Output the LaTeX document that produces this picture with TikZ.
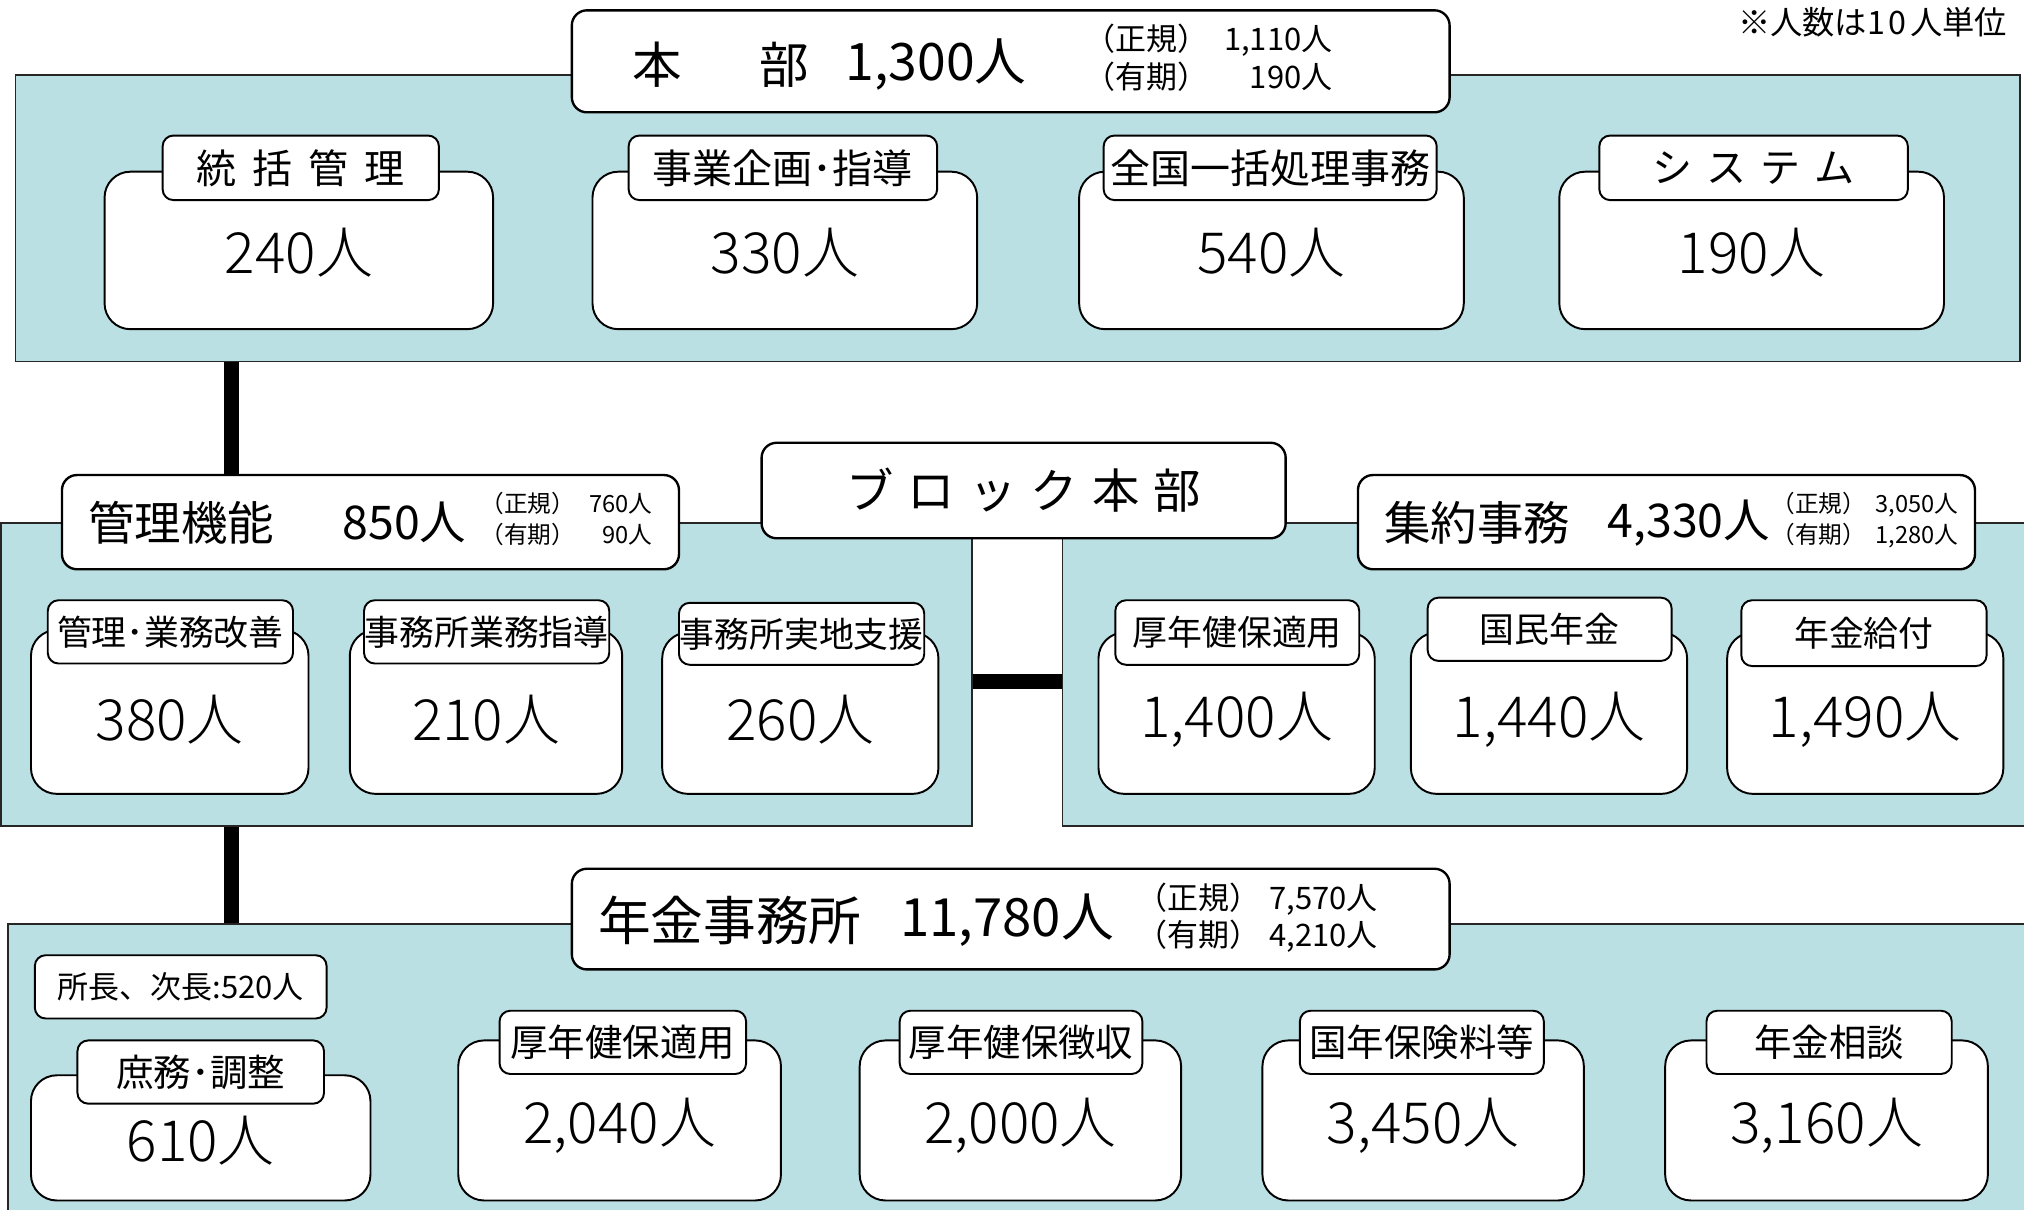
\documentclass[tikz,border=0pt]{standalone}
\usepackage{fontspec}
\setmainfont{Noto Sans CJK JP}
\newfontfamily\thinfont{Noto Sans CJK JP Light}
\definecolor{panelc}{RGB}{187,224,227}
\newcommand\fsz[1]{\fontsize{#1}{#1}\selectfont}
\newcommand\fsl[2]{\fontsize{#1}{#2}\selectfont}
\newcommand\lowr[2]{\raisebox{-#1}[\height][\depth]{#2}}
\newcommand\mkbox[7]{\node[#2, minimum width={(#5-#3)*0.6pt}, minimum height={(#6-#4)*0.6pt}] (#1) at ({(#3+#5)/2},{(#4+#6)/2}) {#7};}
\begin{document}
\begin{tikzpicture}[x=0.6pt,y=-0.6pt,
  panel/.style={draw=black!85, fill=panelc, line width=0.8pt, inner sep=0pt},
  hdrbox/.style={draw=black, fill=white, rounded corners=7pt, line width=1.1pt, inner sep=0pt},
  outerbox/.style={draw=black, fill=white, rounded corners=12pt, line width=0.9pt, inner sep=0pt, font=\thinfont\fsz{26.4}},
  labbox/.style={draw=black, fill=white, rounded corners=5pt, line width=0.9pt, inner sep=0pt},
  toplab/.style={labbox, font=\fsz{18.6}},
  midlab/.style={labbox, font=\fsz{16.2}},
  botlab/.style={labbox, font=\fsz{17.4}},
  txt/.style={inner sep=0pt, anchor=west},
  conn/.style={line width=7pt}]
\useasboundingbox (0,0) rectangle (1568,937);
\clip (0,0) rectangle (1568,937);

% panels
\mkbox{ptop}{panel}{12}{58}{1565}{280}{}
\mkbox{pmidl}{panel}{1}{405}{753}{640}{}
\mkbox{pmidr}{panel}{823}{405}{1590}{640}{}
\mkbox{pbot}{panel}{6}{716}{1590}{960}{}

% note
\node[anchor=east, inner sep=0pt, font=\fsz{15}] (note) at (1555,17) {※人数は1\hspace{0.12em}0\hspace{0.1em}人単位};

% header: honbu
\mkbox{hq}{hdrbox}{443}{8}{1123}{87}{}
\node[txt, font=\fsz{23}] (hqname) at (490,50) {本\hspace{1.55em}部};
\node[txt, font=\fsz{24}] (hqnum) at (655,50) {1,300人};
\node[txt] (hqsub) at (840,48) {\fsl{14.4}{17.4}\begin{tabular}{@{}l@{\hspace{0.5em}}r@{}}（正規）&1,110人\\（有期）&190人\end{tabular}};

% top sub boxes
\mkbox{t1o}{outerbox}{81}{133}{382}{255}{\lowr{1.2pt}{240人}}
\mkbox{t1l}{toplab}{126}{105}{340}{155}{統\hspace{0.4em}括\hspace{0.4em}管\hspace{0.4em}理}
\mkbox{t2o}{outerbox}{459}{133}{757}{255}{\lowr{1.2pt}{330人}}
\mkbox{t2l}{toplab}{487}{105}{726}{155}{事業企画･指導}
\mkbox{t3o}{outerbox}{836}{133}{1134}{255}{\lowr{1.2pt}{540人}}
\mkbox{t3l}{toplab}{855}{105}{1113}{155}{全国一括処理事務}
\mkbox{t4o}{outerbox}{1208}{133}{1506}{255}{\lowr{1.2pt}{190人}}
\mkbox{t4l}{toplab}{1239}{105}{1478}{155}{シ\hspace{0.35em}ス\hspace{0.35em}テ\hspace{0.35em}ム}

% block honbu
\mkbox{block}{hdrbox}{590}{343}{996}{417}{\fsz{22}ブ\hspace{0.3em}ロ\hspace{0.3em}ッ\hspace{0.3em}ク\hspace{0.3em}本\hspace{0.3em}部}

% kanri kino
\mkbox{kanri}{hdrbox}{48}{368}{526}{441}{}
\node[txt, font=\fsz{21.6}] (kanriname) at (68,405) {管理機能};
\node[txt, font=\fsz{21.6}] (kanrinum) at (265,405) {850人};
\node[txt] (kanrisub) at (372,404) {\fsl{11}{14.4}\begin{tabular}{@{}l@{\hspace{0.6em}}r@{}}（正規）&760人\\（有期）&90人\end{tabular}};

% shuyaku jimu
\mkbox{shuyaku}{hdrbox}{1052}{368}{1530}{441}{}
\node[txt, font=\fsz{21.6}] (shuyakuname) at (1072,405) {集約事務};
\node[txt, font=\fsz{21.6}] (shuyakunum) at (1245,405) {4,330人};
\node[txt] (shuyakusub) at (1372,404) {\fsl{11}{14.4}\begin{tabular}{@{}l@{\hspace{0.4em}}r@{}}（正規）&3,050人\\（有期）&1,280人\end{tabular}};

% middle sub boxes
\mkbox{l1o}{outerbox}{24}{488}{239}{615}{\lowr{3.6pt}{380人}}
\mkbox{l1l}{midlab}{37}{465}{227}{514}{管理･業務改善}
\mkbox{l2o}{outerbox}{271}{488}{482}{615}{\lowr{3.6pt}{210人}}
\mkbox{l2l}{midlab}{282}{465}{472}{514}{事務所業務指導}
\mkbox{l3o}{outerbox}{513}{490}{727}{615}{\lowr{3pt}{260人}}
\mkbox{l3l}{midlab}{526}{467}{716}{515}{事務所実地支援}
\mkbox{r1o}{outerbox}{851}{490}{1065}{615}{\lowr{3pt}{1,400人}}
\mkbox{r1l}{midlab}{864}{465}{1053}{515}{厚年健保適用}
\mkbox{r2o}{outerbox}{1093}{490}{1307}{615}{\lowr{3pt}{1,440人}}
\mkbox{r2l}{midlab}{1106}{463}{1295}{512}{国民年金}
\mkbox{r3o}{outerbox}{1338}{490}{1552}{615}{\lowr{3pt}{1,490人}}
\mkbox{r3l}{midlab}{1349}{465}{1539}{516}{年金給付}

% nenkin jimusho
\mkbox{nenkin}{hdrbox}{443}{673}{1123}{751}{}
\node[txt, font=\fsz{24.5}] (nenkinname) at (463,713) {年金事務所};
\node[txt, font=\fsz{24.5}] (nenkinnum) at (697,713) {11,780人};
\node[txt] (nenkinsub) at (880,713) {\fsl{14.4}{17.4}\begin{tabular}{@{}l@{\hspace{0.3em}}l@{}}（正規）&7,570人\\（有期）&4,210人\end{tabular}};

\mkbox{shocho}{labbox}{27}{740}{253}{789}{\fsz{14.4}所長、次長:520人}

% bottom sub boxes
\mkbox{b1o}{outerbox}{24}{833}{287}{930}{\lowr{1.2pt}{610人}}
\mkbox{b1l}{botlab}{60}{806}{251}{855}{庶務･調整}
\mkbox{b2o}{outerbox}{355}{806}{605}{930}{\lowr{2.4pt}{2,040人}}
\mkbox{b2l}{botlab}{387}{783}{578}{832}{厚年健保適用}
\mkbox{b3o}{outerbox}{666}{806}{915}{930}{\lowr{2.4pt}{2,000人}}
\mkbox{b3l}{botlab}{697}{783}{885}{832}{厚年健保徴収}
\mkbox{b4o}{outerbox}{978}{806}{1227}{930}{\lowr{2.4pt}{3,450人}}
\mkbox{b4l}{botlab}{1007}{783}{1196}{832}{国年保険料等}
\mkbox{b5o}{outerbox}{1290}{806}{1540}{930}{\lowr{2.4pt}{3,160人}}
\mkbox{b5l}{botlab}{1322}{783}{1512}{832}{年金相談}

% connectors
\coordinate (vx) at (179,0);
\coordinate (hy) at (0,528);
\draw[conn] (ptop.south -| vx) -- (kanri.north -| vx);
\draw[conn] (pmidl.south -| vx) -- (pbot.north -| vx);
\draw[conn] (pmidl.east |- hy) -- (pmidr.west |- hy);
\end{tikzpicture}
\end{document}
